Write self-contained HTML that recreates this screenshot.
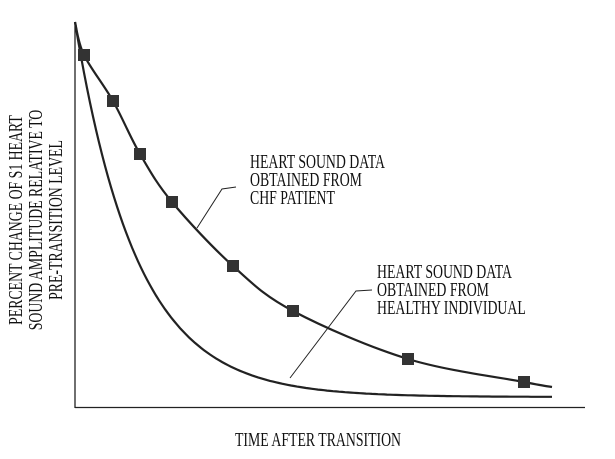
<!DOCTYPE html>
<html><head><style>
html,body{margin:0;padding:0;background:#fff;}
svg{display:block;}
text{font-family:"Liberation Serif",serif;fill:#111;}
</style></head><body>
<svg width="615" height="459" viewBox="0 0 615 459">
<g stroke="#222" fill="none">
<line x1="75" y1="22" x2="75" y2="408" stroke-width="1.3"/>
<line x1="75" y1="407.5" x2="585" y2="407.5" stroke-width="1.3"/>
<path id="low" stroke-width="2.2"/>
<path id="up" stroke-width="2.2"/>
<polyline points="197,228 222,189 236,187" stroke-width="1"/>
<polyline points="290,378 356,291 372,290" stroke-width="1"/>
</g>
<g id="mk" fill="#333"></g>
<g font-size="20">
<g transform="translate(250,168) scale(0.69,1)"><text x="0" y="0">HEART SOUND DATA</text><text x="0" y="18">OBTAINED FROM</text><text x="0" y="36">CHF PATIENT</text></g>
<g transform="translate(377,278) scale(0.69,1)"><text x="0" y="0">HEART SOUND DATA</text><text x="0" y="18">OBTAINED FROM</text><text x="0" y="36">HEALTHY INDIVIDUAL</text></g>
<g transform="translate(235,446) scale(0.69,1)"><text x="0" y="0">TIME AFTER TRANSITION</text></g>
<g transform="translate(38,220) rotate(-90) scale(0.69,1)" text-anchor="middle"><text x="0" y="-16">PERCENT CHANGE OF S1 HEART</text><text x="0" y="4">SOUND AMPLITUDE RELATIVE TO</text><text x="0" y="24">PRE-TRANSITION LEVEL</text></g>
</g>
</svg>
<script>
var d="M75,22";
for(var x=75;x<=552;x+=3){var y=22+375*(1-Math.exp(-(x-75)/62));d+=" L"+x+","+y.toFixed(1);}
document.getElementById("low").setAttribute("d",d);
var p=[[75,22],[84,55],[113,101],[140,154],[172,202],[233,266],[293,311],[408,359],[524,382],[552,387]];
var s="M"+p[0][0]+","+p[0][1];
for(var i=0;i<p.length-1;i++){var p0=p[Math.max(i-1,0)],p1=p[i],p2=p[i+1],p3=p[Math.min(i+2,p.length-1)];
s+=" C"+(p1[0]+(p2[0]-p0[0])/6)+","+(p1[1]+(p2[1]-p0[1])/6)+" "+(p2[0]-(p3[0]-p1[0])/6)+","+(p2[1]-(p3[1]-p1[1])/6)+" "+p2[0]+","+p2[1];}
document.getElementById("up").setAttribute("d",s);
var g=document.getElementById("mk"),h="";
for(var i=1;i<p.length-1;i++){h+='<rect x="'+(p[i][0]-6)+'" y="'+(p[i][1]-6)+'" width="12" height="12"/>';}
g.innerHTML=h;
</script>
</body></html>
